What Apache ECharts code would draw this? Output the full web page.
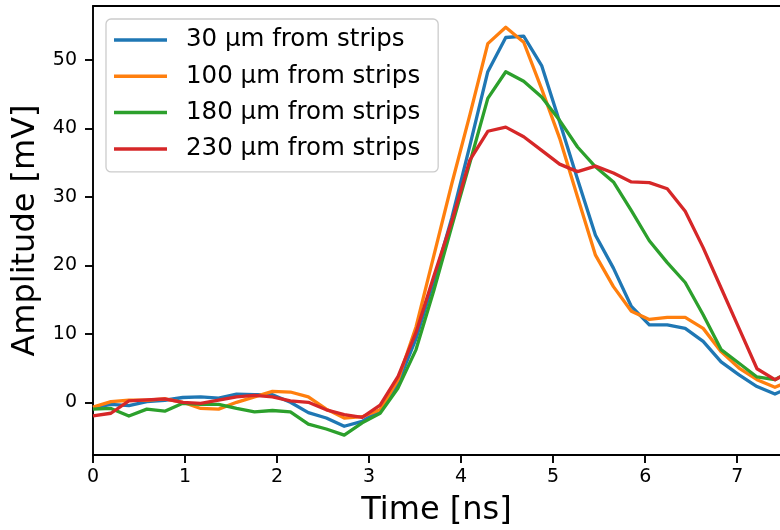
<!DOCTYPE html>
<html>
<head>
<meta charset="utf-8">
<script src="https://cdn.jsdelivr.net/npm/echarts@6/dist/echarts.min.js"></script>
<style>
html,body{margin:0;padding:0;background:#fff;}
#chart{width:780px;height:530px;}
</style>
</head>
<body>
<div id="chart"></div>
<script>
// Sample times [ns]
var timeNs = [0, 0.195, 0.39, 0.585, 0.78, 0.975, 1.17, 1.365, 1.56, 1.755, 1.95, 2.145, 2.34, 2.535, 2.73, 2.925, 3.12, 3.315, 3.51, 3.705, 3.9, 4.095, 4.29, 4.485, 4.68, 4.875, 5.07, 5.265, 5.46, 5.655, 5.85, 6.045, 6.24, 6.435, 6.63, 6.825, 7.02, 7.215, 7.41, 7.605];

// Amplitudes [mV]
var amp30 = [-0.8, -0.3, -0.5, 0.1, 0.3, 0.7, 0.8, 0.6, 1.2, 1.1, 1.1, 0.0, -1.5, -2.3, -3.5, -2.8, -1.1, 2.8, 9.3, 17.8, 27.0, 37.5, 48.3, 53.3, 53.5, 49.2, 41.0, 32.6, 24.4, 19.6, 14.0, 11.3, 11.3, 10.8, 8.9, 5.9, 4.0, 2.3, 1.2, 2.4];
var amp100 = [-0.7, 0.1, 0.3, 0.3, 0.5, 0.0, -0.9, -1.0, 0.0, 0.8, 1.6, 1.5, 0.8, -1.0, -2.3, -2.1, -1.1, 3.3, 11.0, 21.5, 32.0, 42.0, 52.4, 54.8, 52.6, 45.8, 38.6, 30.0, 21.5, 16.9, 13.3, 12.1, 12.4, 12.4, 10.8, 7.4, 5.0, 3.3, 2.2, 3.3];
var amp180 = [-1.0, -0.9, -2.0, -1.0, -1.3, -0.15, -0.3, -0.3, -0.9, -1.4, -1.2, -1.4, -3.2, -3.9, -4.8, -3.0, -1.6, 2.1, 7.7, 16.4, 25.8, 35.0, 44.4, 48.3, 46.9, 44.6, 41.2, 37.3, 34.4, 32.2, 28.0, 23.6, 20.4, 17.5, 12.8, 7.7, 5.7, 3.7, 3.3, 4.8];
var amp230 = [-2.0, -1.6, 0.2, 0.35, 0.5, 0.0, -0.15, 0.3, 0.8, 1.0, 0.8, 0.2, 0.0, -1.1, -1.8, -2.2, -0.4, 3.8, 10.2, 18.5, 26.5, 35.4, 39.6, 40.2, 38.8, 36.8, 34.8, 33.7, 34.5, 33.5, 32.2, 32.1, 31.2, 27.9, 22.6, 16.7, 10.8, 4.9, 3.3, 4.7];

var seriesNames = ['30 µm from strips', '100 µm from strips', '180 µm from strips', '230 µm from strips'];
var seriesColors = ['#1f77b4', '#ff7f0e', '#2ca02c', '#d62728'];

var xTicks = [0, 1, 2, 3, 4, 5, 6, 7];
var yTicks = [0, 10, 20, 30, 40, 50];

var FONT = 'DejaVu Sans';

function pairs(vals) {
  return vals.map(function (v, i) { return [timeNs[i], v]; });
}

var allVals = [amp30, amp100, amp180, amp230];
var series = allVals.map(function (vals, k) {
  return {
    name: seriesNames[k],
    type: 'line',
    data: pairs(vals),
    symbol: 'none',
    clip: true,
    lineStyle: { color: seriesColors[k], width: 3.3, join: 'round' },
    itemStyle: { color: seriesColors[k] }
  };
});

var chart = echarts.init(document.getElementById('chart'), null, { renderer: 'canvas' });
chart.setOption({
  animation: false,
  backgroundColor: '#ffffff',
  grid: { left: 93, top: 6, width: 687, height: 449, containLabel: false, outerBoundsMode: 'none' },
  legend: {
    orient: 'vertical',
    left: 106,
    top: 19,
    padding: [6, 18, 8, 8],
    itemGap: 6.3,
    itemWidth: 53,
    itemHeight: 3.5,
    icon: 'rect',
    backgroundColor: 'rgba(255,255,255,0.8)',
    borderColor: '#cccccc',
    borderWidth: 1.3,
    borderRadius: 5,
    textStyle: { fontFamily: FONT, fontSize: 24.5, color: '#000', lineHeight: 30, padding: [0, 0, 0, 14] },
    data: seriesNames
  },
  xAxis: [{
    type: 'value',
    min: 0,
    max: 7.465,
    name: 'Time [ns]',
    nameLocation: 'middle',
    nameGap: 40,
    nameTextStyle: { fontFamily: FONT, fontSize: 32, color: '#000' },
    axisLine: { onZero: false, lineStyle: { color: '#000', width: 1.9 } },
    axisTick: { show: true, length: 8, customValues: xTicks, lineStyle: { color: '#000', width: 1.9 } },
    axisLabel: { customValues: xTicks, fontFamily: FONT, fontSize: 19, color: '#000', margin: 13 },
    splitLine: { show: false }
  }, {
    type: 'value',
    position: 'top',
    min: 0,
    max: 7.465,
    axisLine: { show: true, onZero: false, lineStyle: { color: '#000', width: 1.9 } },
    axisTick: { show: false },
    axisLabel: { show: false },
    splitLine: { show: false }
  }],
  yAxis: {
    type: 'value',
    min: -7.7,
    max: 57.9,
    name: 'Amplitude [mV]',
    nameLocation: 'middle',
    nameGap: 47,
    nameTextStyle: { fontFamily: FONT, fontSize: 32, color: '#000' },
    axisLine: { show: true, onZero: false, lineStyle: { color: '#000', width: 1.9 } },
    axisTick: { show: true, length: 8, customValues: yTicks, lineStyle: { color: '#000', width: 1.9 } },
    axisLabel: { customValues: yTicks, fontFamily: FONT, fontSize: 19, color: '#000', margin: 16 },
    splitLine: { show: false }
  },
  series: series
});
</script>
</body>
</html>
